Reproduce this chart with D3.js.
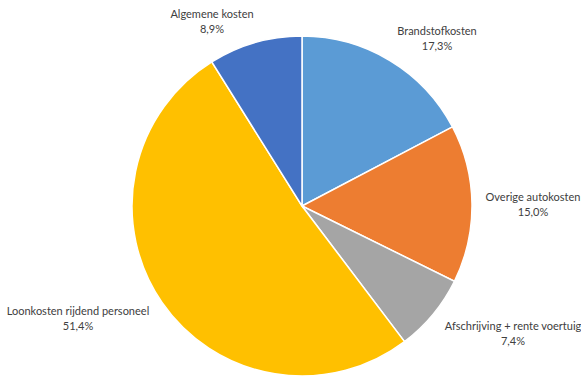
<!DOCTYPE html>
<html>
<head>
<meta charset="utf-8">
<script src="https://cdn.jsdelivr.net/npm/d3@7"></script>
<style>
  body { margin: 0; background: #fff; }
  svg { display: block; }
  text { font-family: Lato, "Open Sans", sans-serif; font-size: 11px; fill: #404040; }
</style>
</head>
<body>
<svg width="581" height="380"></svg>
<script>
// Chart data
var categories = ["Brandstofkosten", "Overige autokosten", "Afschrijving + rente voertuig", "Loonkosten rijdend personeel", "Algemene kosten"];
var values = [17.3, 15.0, 7.4, 51.4, 8.9];
var colors = ["#5B9BD5", "#ED7D31", "#A5A5A5", "#FFC000", "#4472C4"];

// Label anchor points (center of the two-line label)
var labelPos = [[437, 38], [533, 204], [513, 333], [78, 318], [212, 21]];

var width = 581;
var height = 380;
var cx = 302;
var cy = 206;
var radius = 170;

var svg = d3.select("svg");
var g = svg.append("g").attr("transform", "translate(" + cx + "," + cy + ")");

var pie = d3.pie().sort(null).value(function(d) { return d; });
var arc = d3.arc().innerRadius(0).outerRadius(radius);

var arcs = pie(values);

// Draw the slices
g.selectAll("path")
  .data(arcs)
  .enter()
  .append("path")
  .attr("d", arc)
  .attr("fill", function(d, i) { return colors[i]; })
  .attr("stroke", "#fff")
  .attr("stroke-width", 1.5);

// Draw the labels
var fmt = function(v) { return v.toFixed(1).replace(".", ",") + "%"; };

arcs.forEach(function(d, i) {
  var t = svg.append("text")
    .attr("x", labelPos[i][0])
    .attr("y", labelPos[i][1])
    .attr("text-anchor", "middle");
  t.append("tspan")
    .attr("x", labelPos[i][0])
    .attr("dy", "-0.3em")
    .text(categories[i]);
  t.append("tspan")
    .attr("x", labelPos[i][0])
    .attr("dy", "1.35em")
    .text(fmt(values[i]));
});
</script>
</body>
</html>
